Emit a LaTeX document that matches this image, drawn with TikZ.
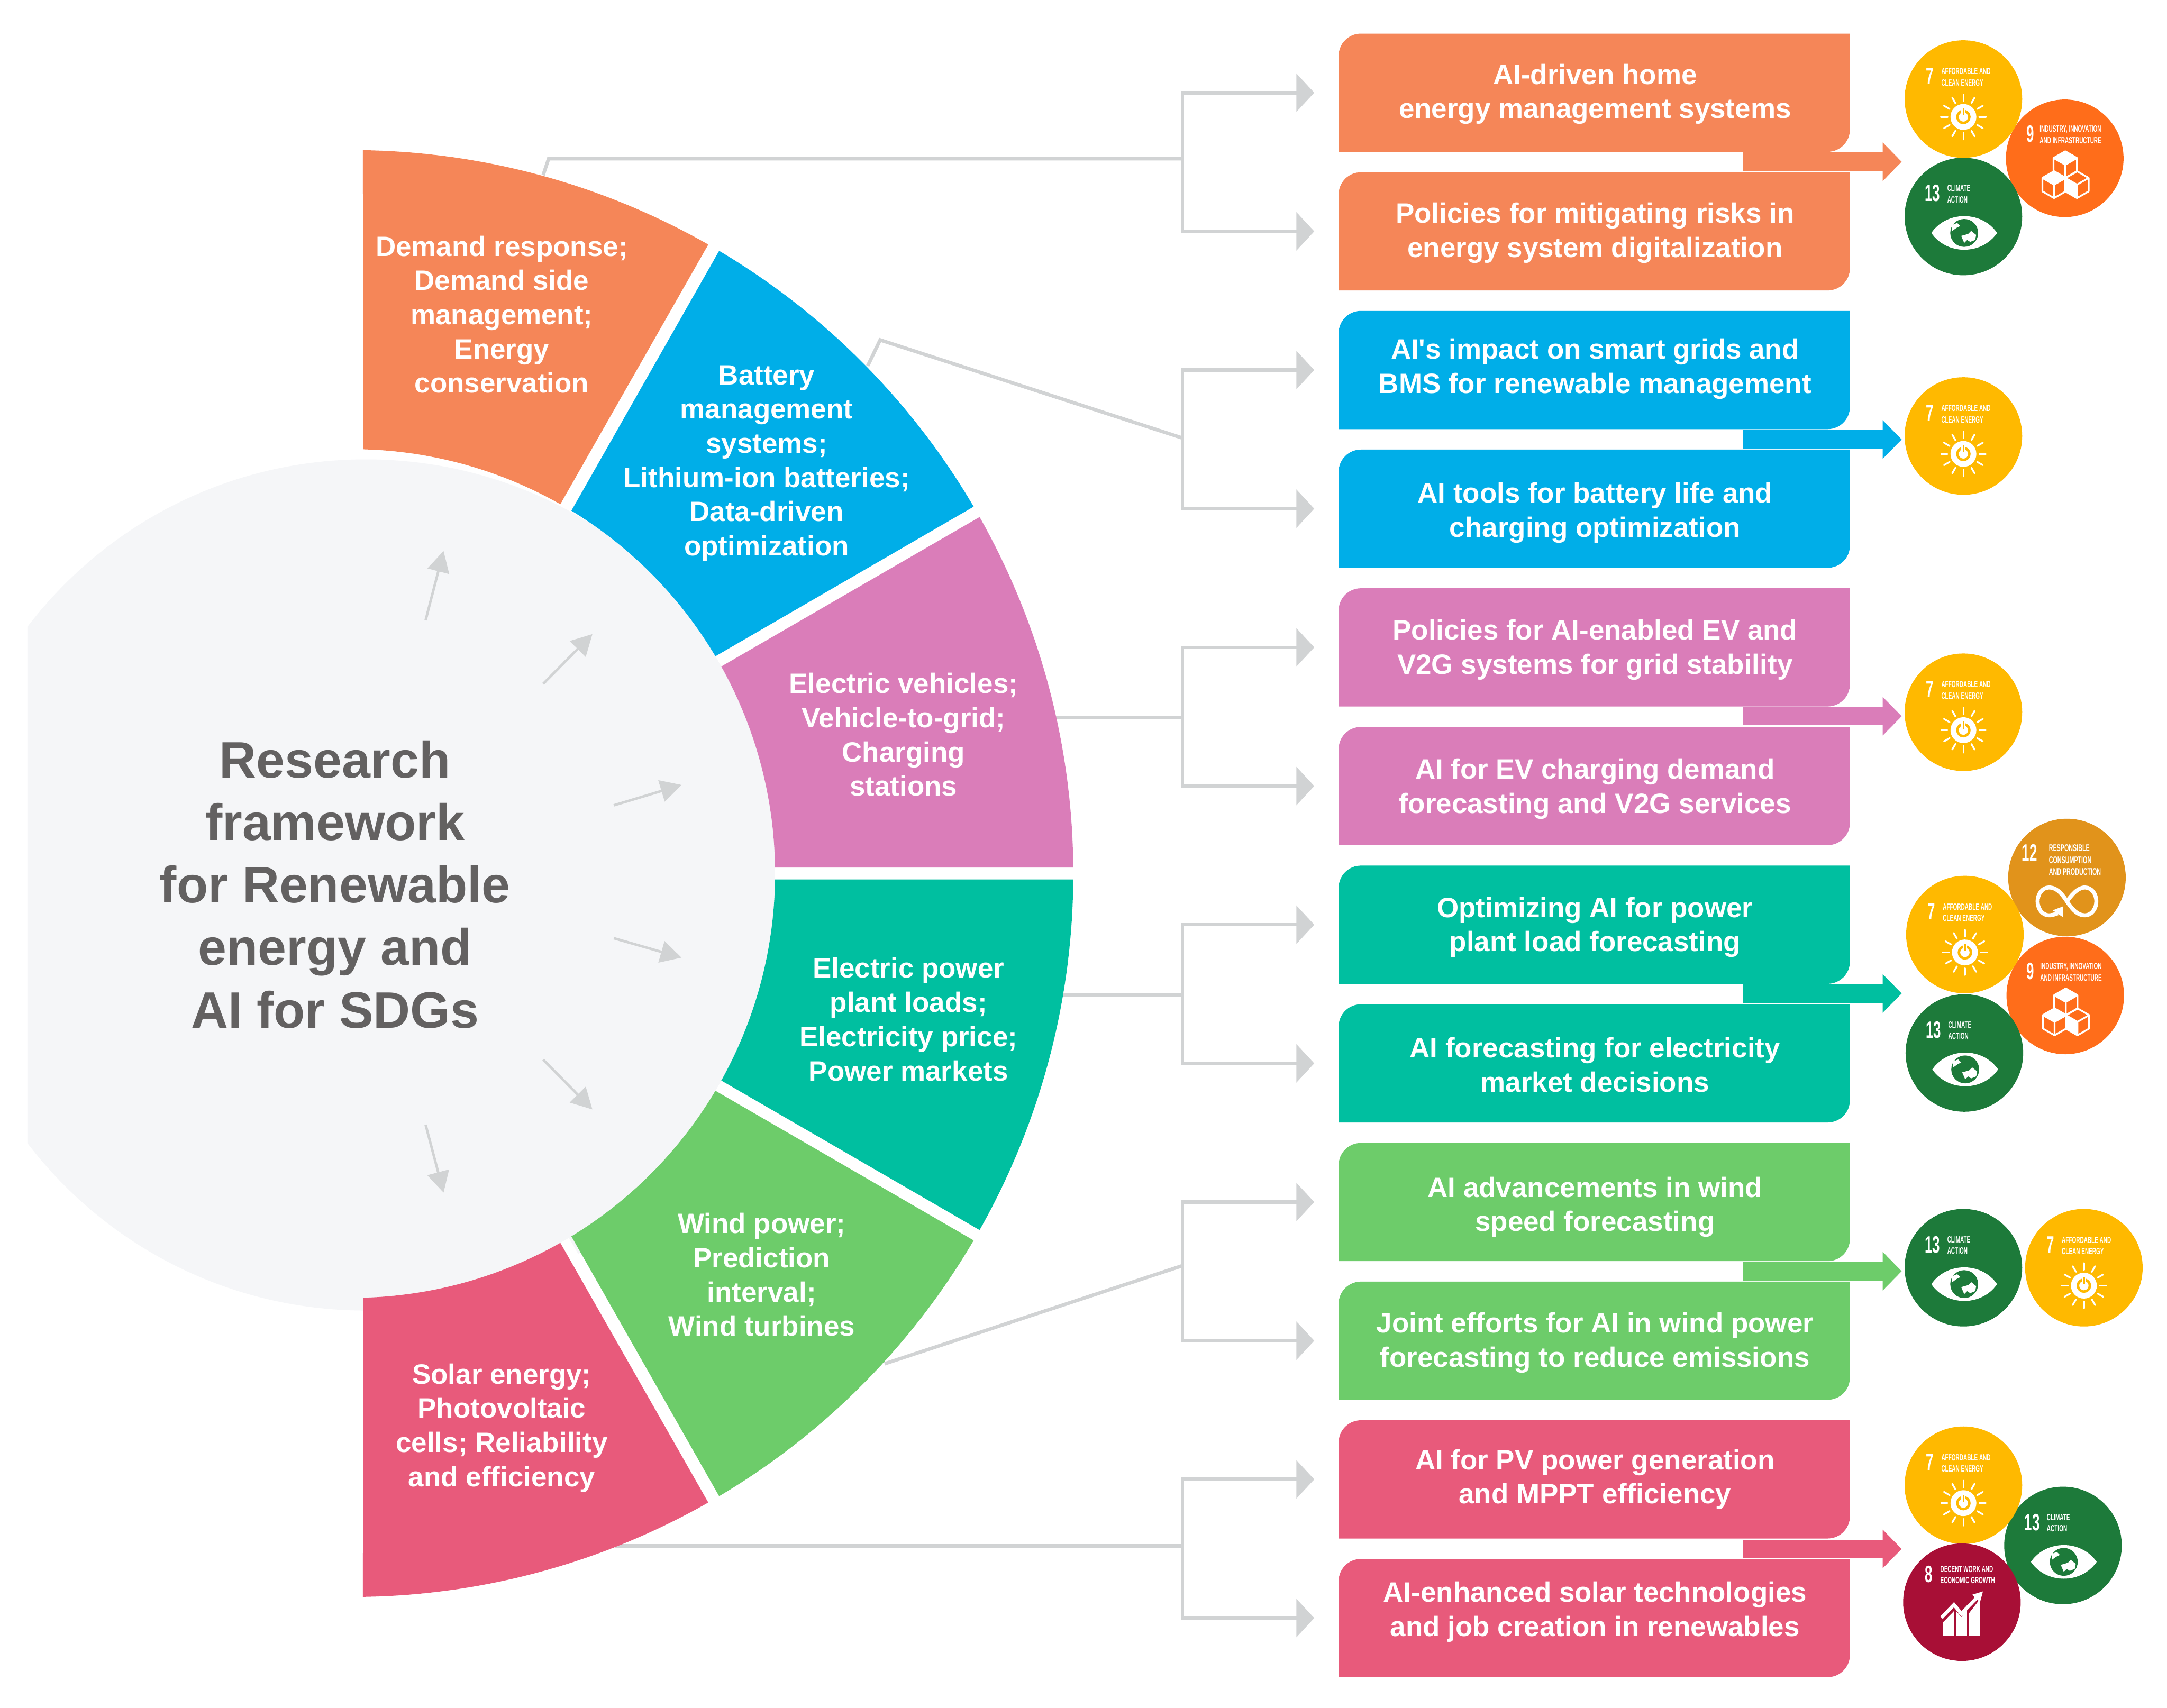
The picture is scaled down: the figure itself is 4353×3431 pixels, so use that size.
\documentclass[tikz,border=0pt]{standalone}
\usepackage{fontspec}
\setmainfont[Ligatures=TeXOff]{Liberation Sans}
\usetikzlibrary{arrows.meta}
\definecolor{cOrange}{HTML}{F58658}
\definecolor{cBlue}{HTML}{00AEE8}
\definecolor{cPink}{HTML}{DA7DB9}
\definecolor{cTeal}{HTML}{00BFA0}
\definecolor{cGreen}{HTML}{6DCC6A}
\definecolor{cRed}{HTML}{E85A7B}
\definecolor{cGrayLine}{HTML}{D1D3D4}
\definecolor{cCore}{HTML}{F5F6F8}
\definecolor{cTitle}{HTML}{636161}
\definecolor{gSeven}{HTML}{FFB900}
\definecolor{gNine}{HTML}{FF6D1A}
\definecolor{gThirteen}{HTML}{1D7A3A}
\definecolor{gTwelve}{HTML}{E1931B}
\definecolor{gEight}{HTML}{A80F36}
\newcommand{\sq}[1]{\scalebox{0.58}[1]{#1}}
\tikzset{
  x=0.01cm,y=-0.01cm,
  gline/.style={draw=cGrayLine,line width=0.07cm},
  garrow/.style={gline,-{Triangle[length=0.36cm,width=0.76cm]}},
  smallarrow/.style={draw=cGrayLine,line width=0.05cm,-{Triangle[length=0.42cm,width=0.44cm]}},
  blockarrow/.style={line width=0.37cm,-{Triangle[length=0.38cm,width=0.75cm]}},
  sectortext/.style={text=white,align=center,inner sep=0pt,font=\fontsize{16}{19.55}\selectfont\bfseries},
  boxtext/.style={text=white,align=center,inner sep=0pt,font=\fontsize{16}{19.55}\selectfont\bfseries},
  titletext/.style={text=cTitle,align=center,inner sep=0pt,font=\fontsize{29.3}{35.7}\selectfont\bfseries},
  sdgnum/.style={text=white,anchor=north west,inner sep=0pt,font=\fontsize{13.5}{13.5}\selectfont\bfseries},
  sdglab/.style={text=white,anchor=north west,align=left,inner sep=0pt,font=\fontsize{5.2}{6.5}\selectfont\bfseries},
  sdgdisc/.style={circle,minimum size=2.36cm,inner sep=0pt},
  iconline/.style={draw=white,line width=0.035cm},
}
\newcommand{\sector}[5]{\fill[#1] (#2:1449) arc[start angle=#2,end angle=#3,radius=1449] -- (#5:850) arc[start angle=#5,end angle=#4,radius=850] -- cycle;}
\newcommand{\bx}[5]{%
  \pgfmathsetmacro\bT{67.5+278.6*#2}\pgfmathsetmacro\bB{\bT+237.5}\pgfmathsetmacro\bM{\bT+118.75}%
  \pgfmathsetmacro\bTa{\bT+45}\pgfmathsetmacro\bTb{\bT+20}\pgfmathsetmacro\bBa{\bB-45}\pgfmathsetmacro\bBb{\bB-20}%
  \pgfmathsetmacro\bN{\bM+#5}%
  \fill[#3] (2689,\bB) -- (2689,\bTa) .. controls (2689,\bTb) and (2709,\bT) .. (2734,\bT) -- (3716,\bT) -- (3716,\bBa) .. controls (3716,\bBb) and (3696,\bB) .. (3671,\bB) -- cycle;
  \node[boxtext] (#1) at (3204,\bN) {#4};
  \coordinate (#1in) at (2640,\bM);
}
\newcommand{\sdgseven}[3]{\begin{scope}[shift={(#2,#3)},name prefix=#1-]
  \node[sdgdisc,fill=gSeven] (disc) at (0,0) {};
  \node[sdgnum] (num) at (-76,-63) {\sq{7}};
  \node[sdglab] (lab) at (-45,-63) {\sq{AFFORDABLE AND}\\\sq{CLEAN ENERGY}};
  \begin{scope}[shift={(0,36)}]
    \foreach \ang in {0,30,...,330} {\draw[white,line width=0.035cm,line cap=round] (\ang:32) -- (\ang:45);}
    \fill[white] (0,0) circle[radius=26];
    \draw[gSeven,line width=0.05cm] (0,0) circle[radius=12];
    \draw[white,line width=0.09cm] (0,-20) -- (0,-5);
    \draw[gSeven,line width=0.035cm] (0,-17) -- (0,-3);
  \end{scope}
\end{scope}}
\newcommand{\cube}[3]{\begin{scope}[shift={(#1,#2)}]
  #3
  \draw[iconline,line join=round] (0,-27) -- (23.5,-13.5) -- (23.5,13.5) -- (0,27) -- (-23.5,13.5) -- (-23.5,-13.5) -- cycle (0,0) -- (23.5,-13.5) (0,0) -- (-23.5,-13.5) (0,0) -- (0,27);
\end{scope}}
\newcommand{\sdgnine}[3]{\begin{scope}[shift={(#2,#3)},name prefix=#1-]
  \node[sdgdisc,fill=gNine] (disc) at (0,0) {};
  \node[sdgnum] (num) at (-78,-66) {\sq{9}};
  \node[sdglab] (lab) at (-51,-66) {\sq{INDUSTRY, INNOVATION}\\\sq{AND INFRASTRUCTURE}};
  \cube{-21.5}{53}{\fill[white] (0,-27) -- (23.5,-13.5) -- (0,0) -- (-23.5,-13.5) -- cycle;}
  \cube{24.5}{53}{\fill[white] (0,0) -- (0,27) -- (-23.5,13.5) -- (-23.5,-13.5) -- cycle;}
  \cube{1}{13}{\fill[white] (0,-27) -- (23.5,-13.5) -- (0,0) -- (-23.5,-13.5) -- cycle;}
\end{scope}}
\newcommand{\sdgthirteen}[3]{\begin{scope}[shift={(#2,#3)},name prefix=#1-]
  \node[sdgdisc,fill=gThirteen] (disc) at (0,0) {};
  \node[sdgnum] (num) at (-78,-64) {\sq{13}};
  \node[sdglab] (lab) at (-33,-64) {\sq{CLIMATE}\\\sq{ACTION}};
  \begin{scope}[shift={(1.6,33)}]
    \fill[white] (-66,0) .. controls (-35,-45) and (35,-45) .. (66,0) .. controls (35,45) and (-35,45) .. (-66,0) -- cycle;
    \fill[gThirteen] (0,0) circle[radius=28];
    \fill[white] (-24,-16) -- (-14,-20) -- (-8,-14) -- (-16,-10) -- (-24,-4) -- cycle;
    \fill[white] (-6,6) -- (8,2) -- (14,-4) -- (24,4) -- (22,14) -- (12,18) -- (6,14) -- (0,20) -- cycle;
  \end{scope}
\end{scope}}
\newcommand{\sdgtwelve}[3]{\begin{scope}[shift={(#2,#3)},name prefix=#1-]
  \node[sdgdisc,fill=gTwelve] (disc) at (0,0) {};
  \node[sdgnum] (num) at (-91,-67) {\sq{12}};
  \node[sdglab,font=\fontsize{5.6}{6.85}\selectfont\bfseries] (lab) at (-37,-67) {\sq{RESPONSIBLE}\\\sq{CONSUMPTION}\\\sq{AND PRODUCTION}};
  \draw[white,line width=0.08cm,-{Triangle[length=0.18cm,width=0.24cm]}] (0,48) .. controls (13,30) and (24,20) .. (36,20) .. controls (50,20) and (59,34) .. (59,48) .. controls (59,62) and (50,76) .. (36,76) .. controls (22,76) and (12,66) .. (0,48) .. controls (-12,30) and (-22,20) .. (-36,20) .. controls (-50,20) and (-59,34) .. (-59,48) .. controls (-59,62) and (-50,76) .. (-36,76) .. controls (-26,76) and (-16,70) .. (-8,58);
\end{scope}}
\newcommand{\sdgeight}[3]{\begin{scope}[shift={(#2,#3)},name prefix=#1-]
  \node[sdgdisc,fill=gEight] (disc) at (0,0) {};
  \node[sdgnum] (num) at (-75,-74) {\sq{8}};
  \node[sdglab] (lab) at (-44,-74) {\sq{DECENT WORK AND}\\\sq{ECONOMIC GROWTH}};
  \fill[white] (-37.5,68) -- (-16,68) -- (-16,18) -- (-37.5,40) -- cycle;
  \fill[white] (-11.5,68) -- (10,68) -- (10,14) -- (-1,30) -- (-11.5,18) -- cycle;
  \fill[white] (14.5,68) -- (36,68) -- (36,-6) -- (14.5,22) -- cycle;
  \draw[white,line width=0.07cm,-{Triangle[length=0.2cm,width=0.2cm]}] (-41,31) -- (-16,5) -- (-1,23) -- (42.5,-22);
\end{scope}}
\begin{document}
\begin{tikzpicture}
\useasboundingbox (0,0) rectangle (4353,3431);
\fill[white] (0,0) rectangle (4353,3431);
% core disc
\begin{scope}
  \clip (55,0) rectangle (2300,3431);
  \fill[cCore] (735,1778) circle[radius=855];
\end{scope}
% connector starting points and trunks
\coordinate (cA) at (1091,352); \coordinate (cAb) at (1102,319); \coordinate (tA) at (2375,319);
\coordinate (cB) at (1743,735); \coordinate (cBb) at (1768,683); \coordinate (tB) at (2375,880);
\coordinate (cC) at (2100,1441); \coordinate (tC) at (2375,1441);
\coordinate (cD) at (2100,1999); \coordinate (tD) at (2375,1999);
\coordinate (cE) at (1777,2740); \coordinate (tE) at (2375,2543);
\coordinate (cF) at (1235,3106); \coordinate (tF) at (2375,3106);
\draw[gline] (cA) -- (cAb) -- (tA);
\draw[gline] (cB) -- (cBb) -- (tB);
\draw[gline] (cC) -- (tC);
\draw[gline] (cD) -- (tD);
\draw[gline] (cE) -- (tE);
\draw[gline] (cF) -- (tF);
% ring sectors
\begin{scope}[shift={(707,1755)},y=0.01002cm]
  \foreach \ang in {60,30,0,-30,-60} {\draw[white,line width=0.25cm] (\ang:850) -- (\ang:960);}
  \sector{cOrange}{60.4}{89.13}{60.5}{88.5}
  \sector{cBlue}{30.475}{59.4}{30.8}{58.76}
  \sector{cPink}{0.475}{29.525}{0.81}{29.2}
  \sector{cTeal}{-29.525}{-0.475}{-29.2}{-0.81}
  \sector{cGreen}{-59.4}{-30.475}{-58.76}{-30.8}
  \sector{cRed}{-89.13}{-60.4}{-88.5}{-60.5}
\end{scope}
% ring labels
\node[sectortext] (sA) at (1008,632) {Demand response;\\Demand side\\management;\\Energy\\conservation};
\node[sectortext] (sB) at (1540,931) {Battery\\management\\systems;\\Lithium-ion batteries;\\Data-driven\\optimization};
\node[sectortext] (sC) at (1815,1476) {Electric vehicles;\\Vehicle-to-grid;\\Charging\\stations};
\node[sectortext] (sD) at (1825,2048) {Electric power\\plant loads;\\Electricity price;\\Power markets};
\node[sectortext] (sE) at (1530,2561) {Wind power;\\Prediction\\interval;\\Wind turbines};
\node[sectortext] (sF) at (1008,2869) {Solar energy;\\Photovoltaic\\cells; Reliability\\and efficiency};
% title
\node[titletext] (title) at (673,1777) {Research\\framework\\for Renewable\\energy and\\AI for SDGs};
% core arrows
\coordinate (ia1) at (855,1246); \coordinate (ib1) at (891,1107);
\coordinate (ia2) at (1091,1374); \coordinate (ib2) at (1190,1274);
\coordinate (ia3) at (1233,1618); \coordinate (ib3) at (1369,1577);
\coordinate (ia4) at (1233,1885); \coordinate (ib4) at (1369,1924);
\coordinate (ia5) at (1091,2129); \coordinate (ib5) at (1190,2229);
\coordinate (ia6) at (855,2260); \coordinate (ib6) at (891,2396);
\foreach \n in {1,...,6} {\draw[smallarrow] (ia\n) -- (ib\n);}
% boxes
\bx{b0}{0}{cOrange}{AI-driven home\\energy management systems}{3}
\bx{b1}{1}{cOrange}{Policies for mitigating risks in\\energy system digitalization}{3}
\bx{b2}{2}{cBlue}{AI's impact on smart grids and\\BMS for renewable management}{-2}
\bx{b3}{3}{cBlue}{AI tools for battery life and\\charging optimization}{8}
\bx{b4}{4}{cPink}{Policies for AI-enabled EV and\\V2G systems for grid stability}{5}
\bx{b5}{5}{cPink}{AI for EV charging demand\\forecasting and V2G services}{6}
\bx{b6}{6}{cTeal}{Optimizing AI for power\\plant load forecasting}{5}
\bx{b7}{7}{cTeal}{AI forecasting for electricity\\market decisions}{3}
\bx{b8}{8}{cGreen}{AI advancements in wind\\speed forecasting}{10}
\bx{b9}{9}{cGreen}{Joint efforts for AI in wind power\\forecasting to reduce emissions}{4}
\bx{b10}{10}{cRed}{AI for PV power generation\\and MPPT efficiency}{0}
\bx{b11}{11}{cRed}{AI-enhanced solar technologies\\and job creation in renewables}{-12}
% connectors into boxes
\draw[garrow] (tA) |- (b0in); \draw[garrow] (tA) |- (b1in);
\draw[garrow] (tB) |- (b2in); \draw[garrow] (tB) |- (b3in);
\draw[garrow] (tC) |- (b4in); \draw[garrow] (tC) |- (b5in);
\draw[garrow] (tD) |- (b6in); \draw[garrow] (tD) |- (b7in);
\draw[garrow] (tE) |- (b8in); \draw[garrow] (tE) |- (b9in);
\draw[garrow] (tF) |- (b10in); \draw[garrow] (tF) |- (b11in);
% block arrows
\coordinate (pa1) at (3501,325); \coordinate (pb1) at (3820,325);
\coordinate (pa2) at (3501,883); \coordinate (pb2) at (3820,883);
\coordinate (pa3) at (3501,1439); \coordinate (pb3) at (3820,1439);
\coordinate (pa4) at (3501,1996); \coordinate (pb4) at (3820,1996);
\coordinate (pa5) at (3501,2554); \coordinate (pb5) at (3820,2554);
\coordinate (pa6) at (3501,3112); \coordinate (pb6) at (3820,3112);
\draw[blockarrow,cOrange] (pa1) -- (pb1);
\draw[blockarrow,cBlue] (pa2) -- (pb2);
\draw[blockarrow,cPink] (pa3) -- (pb3);
\draw[blockarrow,cTeal] (pa4) -- (pb4);
\draw[blockarrow,cGreen] (pa5) -- (pb5);
\draw[blockarrow,cRed] (pa6) -- (pb6);
% SDG discs
\sdgnine{g1b}{4147.6}{318}
\sdgseven{g1a}{3944}{199}
\sdgthirteen{g1c}{3944}{435}
\sdgseven{g2a}{3944}{876}
\sdgseven{g3a}{3944}{1431}
\sdgtwelve{g4a}{4152}{1763}
\sdgnine{g4b}{4148.6}{2000}
\sdgseven{g4c}{3947}{1877.6}
\sdgthirteen{g4d}{3946}{2115.6}
\sdgthirteen{g5a}{3944}{2547}
\sdgseven{g5b}{4186}{2547}
\sdgthirteen{g6b}{4144}{3105}
\sdgseven{g6a}{3944}{2984}
\sdgeight{g6c}{3941}{3219}
\end{tikzpicture}
\end{document}
